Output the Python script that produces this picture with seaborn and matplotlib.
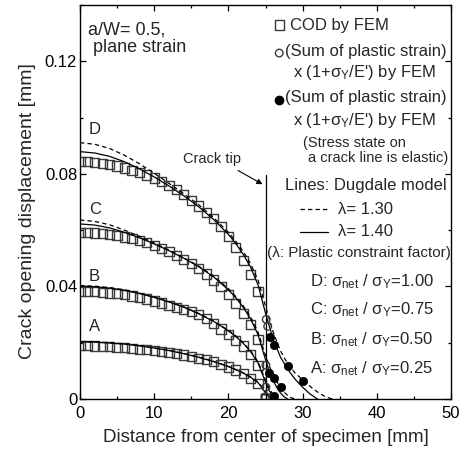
import numpy as np
import pandas as pd
import seaborn as sns
from matplotlib import pyplot as plt

# FEM crack opening displacement (squares), nodes along the crack line
x_fem = list(range(0, 26))
cod_fem_A = [0.0189, 0.0189, 0.0188, 0.0187, 0.0186, 0.0184, 0.0182, 0.0180, 0.0177, 0.0175,
             0.0172, 0.0168, 0.0165, 0.0161, 0.0156, 0.0151, 0.0145, 0.0139, 0.0132, 0.0123,
             0.0114, 0.0103, 0.0091, 0.0074, 0.0056, 0.0]
cod_fem_B = [0.0382, 0.0382, 0.0381, 0.0379, 0.0377, 0.0374, 0.0370, 0.0366, 0.0361, 0.0355,
             0.0348, 0.0341, 0.0333, 0.0326, 0.0318, 0.0310, 0.0300, 0.0286, 0.0268, 0.0249,
             0.0228, 0.0209, 0.0188, 0.0157, 0.0120, 0.0]
cod_fem_C = [0.0592, 0.0591, 0.0590, 0.0588, 0.0585, 0.0581, 0.0576, 0.0570, 0.0563, 0.0555,
             0.0546, 0.0536, 0.0524, 0.0511, 0.0497, 0.0481, 0.0463, 0.0444, 0.0423, 0.0399,
             0.0370, 0.0339, 0.0304, 0.0266, 0.0212, 0.0]
cod_fem_D = [0.0844, 0.0843, 0.0841, 0.0838, 0.0834, 0.0828, 0.0821, 0.0813, 0.0805, 0.0796,
             0.0785, 0.0773, 0.0759, 0.0744, 0.0726, 0.0706, 0.0686, 0.0664, 0.0640, 0.0612,
             0.0578, 0.0538, 0.0492, 0.0443, 0.0383, 0.0]

# sum of plastic strain x (1+sY/E')
open_x = [25.1, 25.3, 25.05, 25.05, 25.0]
open_y = [0.0283, 0.0258, 0.0120, 0.0042, 0.0008]
filled_x = [25.6, 26.1, 28.0, 30.1, 25.5, 26.1, 27.1, 26.1]
filled_y = [0.0219, 0.0191, 0.0117, 0.0065, 0.0094, 0.0073, 0.0044, 0.0012]

# Dugdale model lines
dug_x_A = [0, 2, 4, 6, 8, 10, 12, 14, 16, 18, 20, 21, 22, 23, 24, 25, 25.5, 26]
dug_A_140 = [0.0203, 0.0202, 0.0199, 0.0195, 0.0189, 0.0181, 0.0172, 0.0161, 0.0148, 0.0133,
             0.0115, 0.0104, 0.0092, 0.0077, 0.0058, 0.0022, 0.0006, 0.0]
dug_A_130 = [0.0204, 0.0203, 0.0200, 0.0196, 0.0190, 0.0182, 0.0173, 0.0162, 0.0149, 0.0134,
             0.0116, 0.0105, 0.0093, 0.0078, 0.0060, 0.0026, 0.0009, 0.0]
dug_x_B = [0, 2, 4, 6, 8, 10, 12, 14, 16, 18, 20, 21, 22, 23, 24, 25, 25.5, 26, 26.5]
dug_B_140 = [0.0401, 0.0399, 0.0394, 0.0386, 0.0375, 0.0361, 0.0345, 0.0326, 0.0303, 0.0276,
             0.0242, 0.0222, 0.0198, 0.0168, 0.0128, 0.0060, 0.0030, 0.0010, 0.0]
dug_B_130 = [0.0403, 0.0401, 0.0396, 0.0388, 0.0376, 0.0362, 0.0346, 0.0327, 0.0304, 0.0277,
             0.0244, 0.0224, 0.0200, 0.0171, 0.0132, 0.0068, 0.0038, 0.0016, 0.0]
dug_x_C = [0, 2, 4, 6, 8, 10, 12, 14, 16, 18, 20, 21, 22, 23, 24, 25, 25.5, 26, 26.5, 27, 27.5, 28]
dug_C_140 = [0.0622, 0.0618, 0.0608, 0.0592, 0.0573, 0.0551, 0.0527, 0.0500, 0.0470, 0.0434,
             0.0388, 0.0360, 0.0326, 0.0284, 0.0228, 0.0140, 0.0100, 0.0068, 0.0042, 0.0022,
             0.0008, 0.0]
dug_x_C2 = [0, 2, 4, 6, 8, 10, 12, 14, 16, 18, 20, 21, 22, 23, 24, 25, 25.5, 26, 26.5, 27,
            27.5, 28, 28.5, 29]
dug_C_130 = [0.0636, 0.0631, 0.0619, 0.0600, 0.0578, 0.0554, 0.0529, 0.0502, 0.0472, 0.0437,
             0.0392, 0.0364, 0.0331, 0.0291, 0.0237, 0.0155, 0.0118, 0.0088, 0.0063, 0.0042,
             0.0025, 0.0012, 0.0004, 0.0]
dug_x_D = [0, 2, 4, 6, 8, 10, 12, 14, 16, 18, 20, 21, 22, 23, 24, 25, 26, 27, 28, 29, 30, 31, 32]
dug_D_140 = [0.0879, 0.0874, 0.0862, 0.0843, 0.0818, 0.0789, 0.0757, 0.0722, 0.0683, 0.0638,
             0.0585, 0.0552, 0.0514, 0.0468, 0.0405, 0.0305, 0.0215, 0.0150, 0.0105, 0.0070,
             0.0042, 0.0018, 0.0]
dug_x_D2 = [0, 2, 4, 6, 8, 10, 12, 14, 16, 18, 20, 21, 22, 23, 24, 25, 26, 27, 28, 29, 30,
            31, 32, 33, 34]
dug_D_130 = [0.0911, 0.0905, 0.0890, 0.0866, 0.0836, 0.0802, 0.0766, 0.0729, 0.0690, 0.0645,
             0.0592, 0.0560, 0.0524, 0.0480, 0.0422, 0.0330, 0.0240, 0.0172, 0.0124, 0.0092,
             0.0068, 0.0045, 0.0025, 0.0009, 0.0]

case_labels = ["A", "B", "C", "D"]
case_label_y = [0.0256, 0.0435, 0.0675, 0.0958]
stress_ratio = ["0.25", "0.50", "0.75", "1.00"]

sns.set_theme(style="ticks")
plt.rcParams['font.family'] = ['Liberation Sans', 'DejaVu Sans']
plt.rcParams['mathtext.fontset'] = 'custom'
plt.rcParams['mathtext.rm'] = 'Liberation Sans'
plt.rcParams['mathtext.it'] = 'Liberation Sans'
plt.rcParams['mathtext.bf'] = 'Liberation Sans:bold'

# long table for the Dugdale lines
rows = []
for case, xs, ys, lam in [("A", dug_x_A, dug_A_140, "1.40"), ("A", dug_x_A, dug_A_130, "1.30"),
                          ("B", dug_x_B, dug_B_140, "1.40"), ("B", dug_x_B, dug_B_130, "1.30"),
                          ("C", dug_x_C, dug_C_140, "1.40"), ("C", dug_x_C2, dug_C_130, "1.30"),
                          ("D", dug_x_D, dug_D_140, "1.40"), ("D", dug_x_D2, dug_D_130, "1.30")]:
    for xv, yv in zip(xs, ys):
        rows.append({"x": xv, "cod": yv, "lam": lam, "curve": case + lam})
df_dug = pd.DataFrame(rows)

df_fem = pd.DataFrame({
    "x": x_fem * 4,
    "cod": cod_fem_A + cod_fem_B + cod_fem_C + cod_fem_D,
})

sq_size = 44
oc_size = 30
fc_size = 36
edge_col = "#3a3a3a"

fig = plt.figure(figsize=(4.65, 4.58), dpi=100)
ax = fig.add_axes([80 / 465, 59 / 458, 371 / 465, 394 / 458])

sns.scatterplot(data=df_fem, x="x", y="cod", marker="s", s=sq_size, facecolor="none",
                edgecolor=edge_col, linewidth=1.0, ax=ax, zorder=2)
sns.lineplot(data=df_dug, x="x", y="cod", units="curve", estimator=None, sort=False,
             style="lam", dashes={"1.30": (3.5, 2.5), "1.40": ""}, color="black",
             lw=0.9, legend=False, ax=ax, zorder=3)
sns.scatterplot(x=open_x, y=open_y, marker="o", s=oc_size, facecolor="none",
                edgecolor=edge_col, linewidth=1.0, ax=ax, zorder=4)
sns.scatterplot(x=filled_x, y=filled_y, marker="o", s=fc_size, color="black",
                edgecolor="black", linewidth=0.5, ax=ax, zorder=4)

# crack tip line
ax.plot([25, 25], [0, 0.0795], color="black", lw=0.9, zorder=3)
ax.text(17.8, 0.0853, "Crack tip", fontsize=10.5, ha="center", va="center")
ax.annotate("", xy=(24.6, 0.0763), xytext=(21.3, 0.0812),
            arrowprops=dict(arrowstyle="-|>", color="black", lw=0.8, mutation_scale=8,
                            shrinkA=0, shrinkB=0))

for lab, yl in zip(case_labels, case_label_y):
    ax.text(1.2, yl, lab, fontsize=12, ha="left", va="center")

ax.text(0.022, 0.937, "a/W= 0.5,", transform=ax.transAxes, fontsize=13, va="center")
ax.text(0.035, 0.892, "plane strain", transform=ax.transAxes, fontsize=13, va="center")

# hand-made legend
tr = ax.transAxes
ax.scatter([0.537], [0.949], marker="s", s=sq_size, facecolor="none", edgecolor=edge_col,
           lw=1.0, transform=tr, clip_on=False)
ax.text(0.566, 0.949, "COD by FEM", transform=tr, fontsize=12, va="center")
ax.scatter([0.537], [0.878], marker="o", s=oc_size, facecolor="none", edgecolor=edge_col,
           lw=1.0, transform=tr, clip_on=False)
ax.text(0.553, 0.881, "(Sum of plastic strain)", transform=tr, fontsize=12, va="center")
ax.text(0.574, 0.828, r"x (1+$\sigma_{\rm Y}$/E') by FEM", transform=tr, fontsize=12,
        va="center")
ax.scatter([0.537], [0.759], marker="o", s=fc_size, color="black", transform=tr, clip_on=False)
ax.text(0.553, 0.764, "(Sum of plastic strain)", transform=tr, fontsize=12, va="center")
ax.text(0.574, 0.708, r"x (1+$\sigma_{\rm Y}$/E') by FEM", transform=tr, fontsize=12,
        va="center")
ax.text(0.601, 0.650, "(Stress state on", transform=tr, fontsize=10.5, va="center")
ax.text(0.615, 0.612, "a crack line is elastic)", transform=tr, fontsize=10.5, va="center")
ax.text(0.553, 0.543, "Lines: Dugdale model", transform=tr, fontsize=12, va="center")
ax.plot([0.593, 0.668], [0.482, 0.482], color="black", lw=0.9, dashes=(3.5, 2.5),
        transform=tr)
ax.text(0.695, 0.482, "λ= 1.30", transform=tr, fontsize=12, va="center")
ax.plot([0.593, 0.668], [0.425, 0.425], color="black", lw=0.9, transform=tr)
ax.text(0.695, 0.425, "λ= 1.40", transform=tr, fontsize=12, va="center")
ax.text(0.503, 0.370, "(λ: Plastic constraint factor)", transform=tr, fontsize=11,
        va="center")
for lab, ratio, fy in zip(case_labels[::-1], stress_ratio[::-1], [0.298, 0.226, 0.150, 0.078]):
    ax.text(0.620, fy, lab + r": $\sigma_{\rm net}$ / $\sigma_{\rm Y}$=" + ratio,
            transform=tr, fontsize=12, va="center")

ax.set_xlim(0, 50)
ax.set_ylim(0, 0.14)
ax.set_xticks([0, 10, 20, 30, 40, 50])
ax.set_xticks(np.arange(0, 51, 5), minor=True)
ax.set_yticks([0, 0.04, 0.08, 0.12])
ax.set_yticklabels(["0", "0.04", "0.08", "0.12"])
ax.set_yticks(np.arange(0, 0.141, 0.02), minor=True)
ax.tick_params(which="both", direction="in", top=True, right=True, labelsize=12,
               width=0.9, color="black", labelcolor="black")
ax.tick_params(axis="x", pad=5)
ax.tick_params(axis="y", pad=2)
ax.tick_params(which="major", length=4)
ax.tick_params(which="minor", length=2.5)
for sp in ax.spines.values():
    sp.set_linewidth(1.0)
    sp.set_color("black")
ax.set_xlabel("Distance from center of specimen [mm]", fontsize=13.5, labelpad=6)
ax.set_ylabel("Crack opening displacement [mm]", fontsize=14)
ax.yaxis.set_label_coords(-0.118, 0.477)

plt.savefig("out.png", dpi=100)
